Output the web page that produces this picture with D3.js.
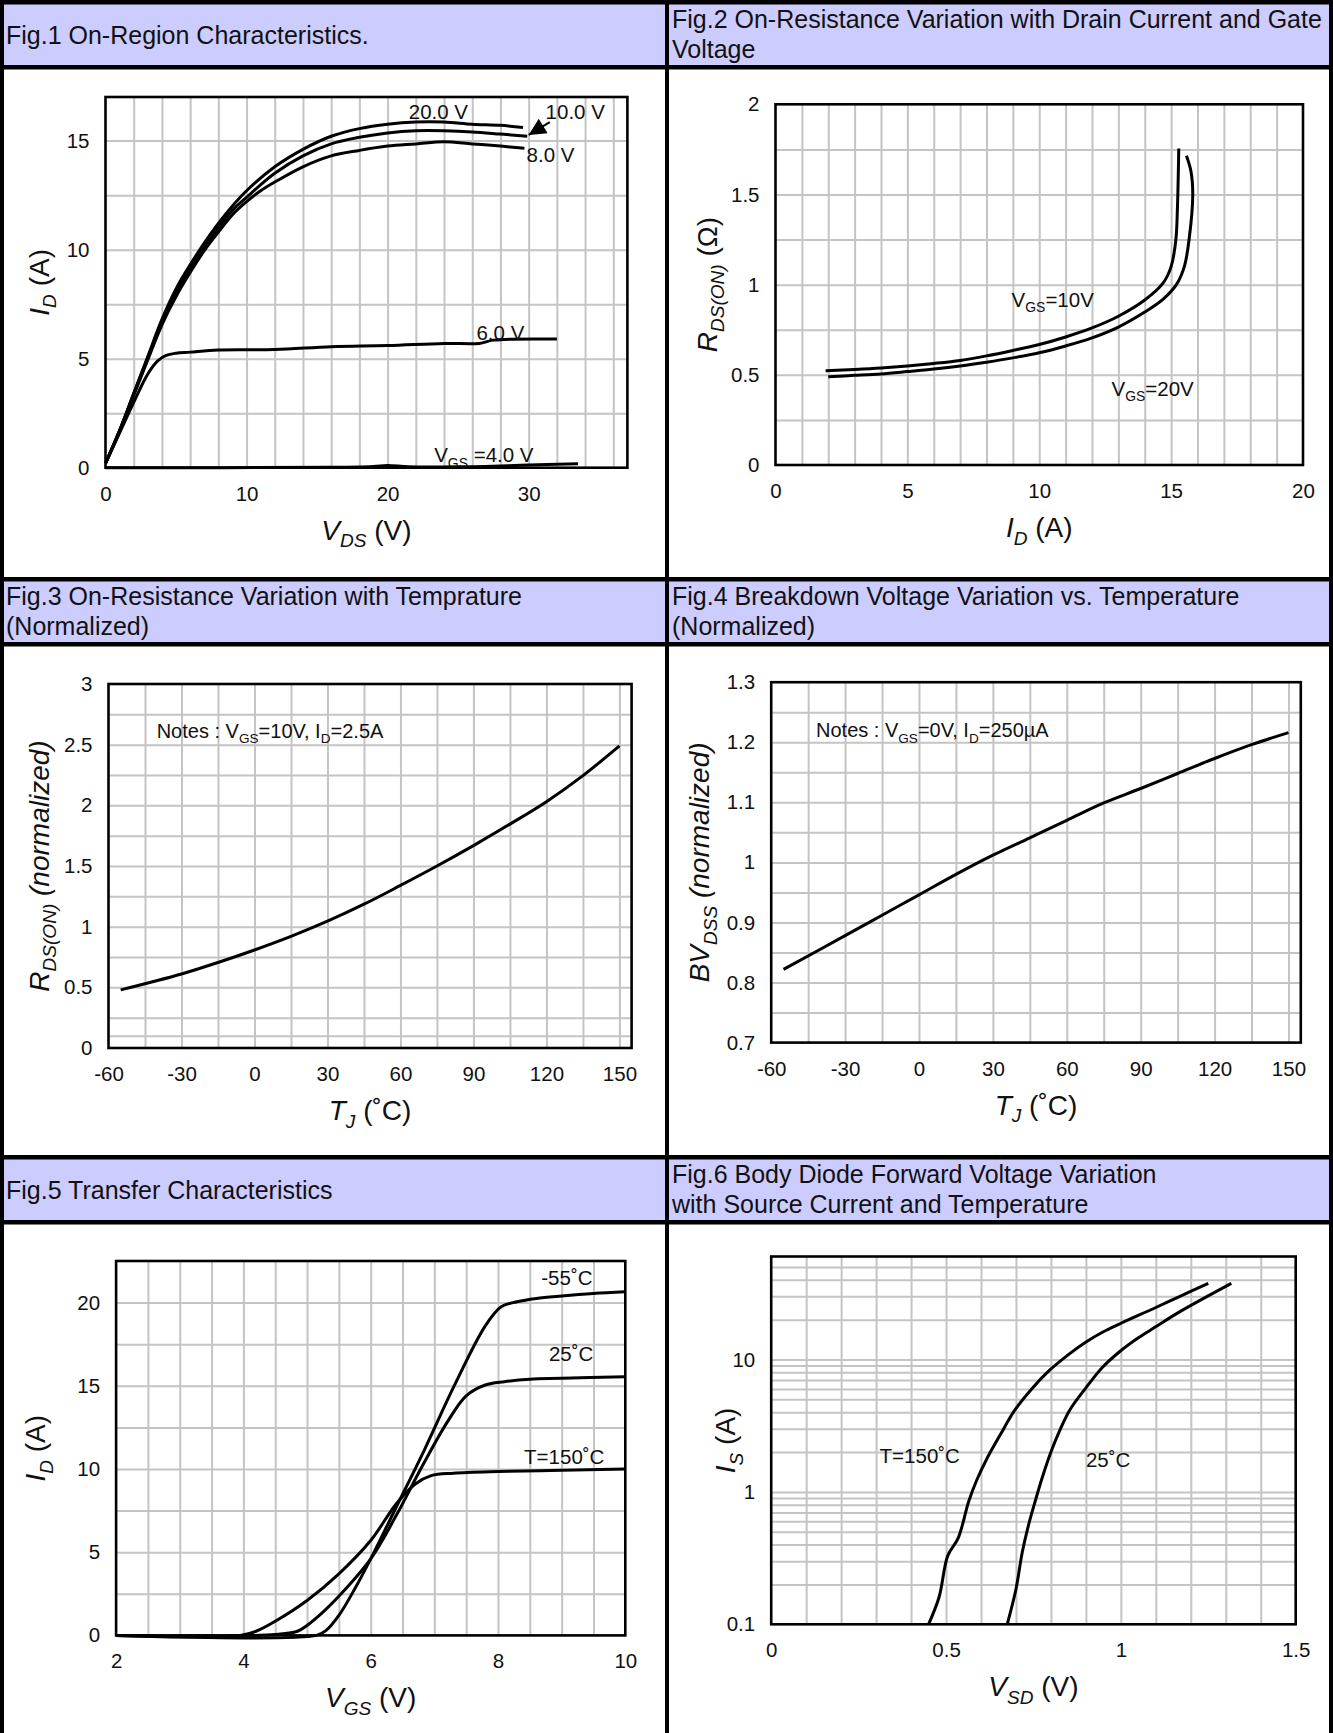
<!DOCTYPE html>
<html>
<head>
<meta charset="utf-8">
<script src="https://cdn.jsdelivr.net/npm/d3@7"></script>
<style>
  body { margin: 0; background: #fff; }
  svg text { font-family: "Liberation Sans", Arial, sans-serif; fill: #111; }
</style>
</head>
<body>
<svg id="sheet" width="1333" height="1733"></svg>
<script>
// ---------------- data ----------------

// Fig.1 On-region characteristics: [V_DS, I_D]
var fig1Vgs20 = [[0,0.2],[1,1.7],[2,3.4],[3,5.1],[4,6.8],[5,8.2],[6,9.3],[7,10.3],[8,11.2],[9,12.0],[10,12.7],
  [12,13.8],[14,14.6],[16,15.2],[18,15.55],[20,15.75],[22,15.85],[24,15.85],[26,15.75],[28,15.7],[29.6,15.6]];
var fig1Vgs10 = [[0,0.2],[1,1.7],[2,3.4],[3,5.05],[4,6.7],[5,8.0],[6,9.1],[7,10.1],[8,11.0],[9,11.8],[10,12.4],
  [12,13.5],[14,14.3],[16,14.85],[18,15.15],[20,15.35],[22,15.45],[24,15.45],[26,15.4],[28,15.3],[29.9,15.2]];
var fig1Vgs8 = [[0,0.2],[1,1.7],[2,3.3],[3,4.95],[4,6.55],[5,7.85],[6,8.95],[7,9.95],[8,10.8],[9,11.6],[10,12.2],
  [11,12.7],[12,13.1],[14,13.8],[16,14.3],[18,14.55],[20,14.75],[22,14.85],[24,14.95],[26,14.85],[28,14.75],[29.7,14.65]];
var fig1Vgs6 = [[0,0.2],[1,1.6],[2,3.0],[3,4.3],[3.7,4.9],[4.3,5.15],[5,5.25],[6,5.3],[8,5.4],[12,5.42],[16,5.55],
  [20,5.6],[24,5.7],[26.5,5.7],[27.5,5.85],[32,5.9]];
var fig1Vgs4 = [[0,0],[16,0.02],[19,0.06],[20,0.1],[21.5,0.04],[25,0.04],[30,0.12],[33.5,0.18]];
var fig1XTicks = [0, 10, 20, 30];
var fig1YTicks = [0, 5, 10, 15];

// Fig.2 On-resistance vs drain current: [I_D, R_DS(on)]
var fig2Vgs10 = [[1.9,0.523],[3,0.53],[4,0.538],[5,0.549],[6,0.563],[7,0.58],[8,0.605],[9,0.635],[10,0.668],
  [11,0.71],[12,0.76],[13,0.825],[14,0.915],[14.7,1.01],[15.0,1.1],[15.18,1.25],[15.24,1.43],[15.29,1.755]];
var fig2Vgs20 = [[2.0,0.49],[3,0.497],[4,0.505],[5,0.518],[6,0.532],[7,0.549],[8,0.57],[9,0.594],[10,0.622],
  [11,0.66],[12,0.705],[13,0.765],[14,0.848],[14.7,0.92],[15.2,1.0],[15.5,1.1],[15.68,1.25],[15.82,1.5],[15.75,1.63],[15.58,1.715]];
var fig2XTicks = [0, 5, 10, 15, 20];
var fig2YTicks = [0, 0.5, 1, 1.5, 2];

// Fig.3 normalized on-resistance vs temperature: [T_J, R]
var fig3Rds = [[-55,0.479],[-30,0.61],[-15,0.705],[0,0.808],[15,0.92],[30,1.045],[45,1.185],[60,1.34],
  [75,1.5],[90,1.668],[105,1.845],[120,2.03],[135,2.245],[150,2.49]];
var fig3XTicks = [-60, -30, 0, 30, 60, 90, 120, 150];
var fig3YTicks = [0, 0.5, 1, 1.5, 2, 2.5, 3];

// Fig.4 normalized breakdown voltage vs temperature: [T_J, BV]
var fig4Bv = [[-55,0.822],[-30,0.878],[-15,0.912],[0,0.946],[15,0.98],[30,1.012],[45,1.041],[60,1.07],
  [75,1.099],[90,1.123],[105,1.148],[120,1.173],[135,1.196],[150,1.216]];
var fig4XTicks = [-60, -30, 0, 30, 60, 90, 120, 150];
var fig4YTicks = [0.7, 0.8, 0.9, 1, 1.1, 1.2, 1.3];

// Fig.5 transfer characteristics: [V_GS, I_D]
var fig5Tm55 = [[2,0],[5.15,0],[5.3,0.3],[5.5,1.2],[5.75,2.8],[6.0,4.6],[6.4,7.7],[6.85,11.2],[7.3,14.9],
  [7.8,18.6],[8.05,19.75],[8.3,20.05],[8.6,20.25],[9,20.4],[9.5,20.55],[10,20.65]];
var fig5T25 = [[2,0],[4.5,0.05],[4.85,0.25],[5.0,0.6],[5.25,1.4],[5.5,2.35],[6.0,4.6],[6.4,7.2],[6.8,10.1],
  [7.2,12.8],[7.5,14.4],[7.8,15.05],[8.1,15.25],[8.5,15.4],[9,15.45],[10,15.55]];
var fig5T150 = [[2,0],[3.95,0],[4.2,0.25],[4.5,0.85],[5.0,2.1],[5.5,3.7],[6.0,5.7],[6.4,7.9],[6.7,9.1],
  [6.95,9.6],[7.3,9.75],[8,9.85],[9,9.92],[10,10.0]];
var fig5XTicks = [2, 4, 6, 8, 10];
var fig5YTicks = [0, 5, 10, 15, 20];

// Fig.6 body diode forward voltage: [V_SD, I_S]
var fig6T150 = [[0.45,0.1],[0.48,0.16],[0.505,0.33],[0.535,0.45],[0.565,0.85],[0.588,1.23],[0.62,1.85],
  [0.655,2.7],[0.697,4.16],[0.745,6.0],[0.797,8.34],[0.85,10.9],[0.897,13.4],[0.95,16.2],[0.997,18.6],
  [1.097,24.5],[1.169,30],[1.25,37.6]];
var fig6T25 = [[0.675,0.1],[0.70,0.184],[0.718,0.35],[0.735,0.55],[0.755,0.85],[0.773,1.23],[0.80,2.0],
  [0.825,2.9],[0.854,4.16],[0.899,6.06],[0.945,8.6],[0.997,11.5],[1.05,14.6],[1.097,17.5],[1.169,23],[1.316,37.6]];
var fig6XTicks = [0, 0.5, 1, 1.5];
var fig6YTicks = [0.1, 1, 10];

var headers = [
  ["Fig.1 On-Region Characteristics."],
  ["Fig.2 On-Resistance Variation with Drain Current and Gate", "Voltage"],
  ["Fig.3 On-Resistance Variation with Temprature", "(Normalized)"],
  ["Fig.4 Breakdown Voltage Variation vs. Temperature", "(Normalized)"],
  ["Fig.5 Transfer Characteristics"],
  ["Fig.6 Body Diode Forward Voltage Variation", "with Source Current and Temperature"]
];

// ---------------- sheet frame ----------------
var W = 1333, H = 1733;
var svg = d3.select("#sheet");
var rowTops = [0, 577, 1155];
var colX = [0, 667];
var HEAD = 25, TICK = 20.5, LABEL = 20.5, NOTE = 20, TITLE = 28;

svg.append("rect").attr("width", W).attr("height", H).attr("fill", "#fff");

rowTops.forEach(function (t, r) {
  svg.append("rect").attr("x", 0).attr("y", t + 4).attr("width", W).attr("height", 61).attr("fill", "#ccccff");
  svg.append("rect").attr("x", 0).attr("y", t).attr("width", W).attr("height", 4.5).attr("fill", "#000");
  svg.append("rect").attr("x", 0).attr("y", t + 65).attr("width", W).attr("height", 4.5).attr("fill", "#000");
  [0, 1].forEach(function (c) {
    var lines = headers[r * 2 + c];
    var tx = colX[c] + (c ? 5 : 6);
    var t1 = svg.append("text").attr("x", tx).attr("font-size", HEAD);
    if (lines.length == 1) {
      t1.attr("y", t + 44).text(lines[0]);
    } else {
      t1.attr("y", t + 28).text(lines[0]);
      svg.append("text").attr("x", tx).attr("y", t + 58).attr("font-size", HEAD).text(lines[1]);
    }
  });
});
// vertical borders
[[0, 4], [665, 4], [1329, 4]].forEach(function (b) {
  svg.append("rect").attr("x", b[0]).attr("y", 0).attr("width", b[1]).attr("height", H).attr("fill", "#000");
});

// ---------------- helpers ----------------
function rich(sel, parts, size) {
  var shifted = false;
  parts.forEach(function (p) {
    var ts = sel.append("tspan").text(p.t);
    if (p.i) ts.style("font-style", "italic");
    if (p.sub) {
      ts.attr("font-size", size * 0.68);
      if (!shifted) ts.attr("dy", size * 0.27);
      shifted = true;
    } else if (shifted) {
      ts.attr("dy", -size * 0.27);
      shifted = false;
    }
  });
  return sel;
}

var lineGen = d3.line().curve(d3.curveCatmullRom.alpha(0.5));

function plot(o) {
  var x = o.x.range([o.box[0], o.box[2]]);
  var y = o.y.range([o.box[3], o.box[1]]);
  var g = svg.append("g");
  var w = o.box[2] - o.box[0], h = o.box[3] - o.box[1];

  // grid through axes with full-length ticks
  var gx = g.append("g").attr("transform", "translate(0," + o.box[3] + ")")
    .call(d3.axisBottom(x).tickValues(o.xGrid).tickSize(-h).tickFormat(""));
  var gy = g.append("g").attr("transform", "translate(" + o.box[0] + ",0)")
    .call(d3.axisLeft(y).tickValues(o.yGrid).tickSize(-w).tickFormat(""));
  [gx, gy].forEach(function (a) {
    a.select(".domain").remove();
    a.selectAll("line").attr("stroke", "#c4c4c4").attr("stroke-width", 2);
  });

  // tick labels
  var lx = g.append("g").attr("transform", "translate(0," + o.box[3] + ")")
    .call(d3.axisBottom(x).tickValues(o.xTicks).tickSize(0).tickPadding(18.5).tickFormat(String));
  var ly = g.append("g").attr("transform", "translate(" + o.box[0] + ",0)")
    .call(d3.axisLeft(y).tickValues(o.yTicks).tickSize(0).tickPadding(16).tickFormat(String));
  [lx, ly].forEach(function (a) {
    a.select(".domain").remove();
    a.attr("font-family", null).attr("font-size", null);
    a.selectAll("text").attr("font-size", TICK).attr("fill", "#111");
  });

  // frame
  g.append("rect").attr("x", o.box[0]).attr("y", o.box[1]).attr("width", w).attr("height", h)
    .attr("fill", "none").attr("stroke", "#000").attr("stroke-width", 2.6);

  // curves
  o.curves.forEach(function (c) {
    g.append("path").attr("d", lineGen(c.map(function (d) { return [x(d[0]), y(d[1])]; })))
      .attr("fill", "none").attr("stroke", "#000").attr("stroke-width", 3)
      .attr("stroke-linejoin", "round");
  });

  // inline labels
  (o.labels || []).forEach(function (l) {
    var fs = l.size || LABEL;
    rich(g.append("text").attr("x", x(l.at[0])).attr("y", y(l.at[1])).attr("font-size", fs), l.parts, fs);
  });

  // axis titles
  rich(g.append("text").attr("x", (o.box[0] + o.box[2]) / 2).attr("y", o.box[3] + 72)
    .attr("text-anchor", "middle").attr("font-size", TITLE), o.xTitle, TITLE);
  rich(g.append("text").attr("transform", "translate(" + (o.box[0] - o.yTitleOff) + "," + ((o.box[1] + o.box[3]) / 2) + ") rotate(-90)")
    .attr("text-anchor", "middle").attr("font-size", TITLE), o.yTitle, TITLE);

  return { g: g, x: x, y: y };
}

function steps(a, b, s) { return d3.range(a, b + s / 2, s).map(function (v) { return +v.toFixed(4); }); }

// ---------------- Fig.1 ----------------
var p1 = plot({
  box: [105.5, 97, 627.4, 467.7],
  x: d3.scaleLinear().domain([0, 37]), y: d3.scaleLinear().domain([0, 17]),
  xGrid: steps(2, 36, 2), yGrid: steps(2.5, 15, 2.5),
  xTicks: fig1XTicks, yTicks: fig1YTicks,
  curves: [fig1Vgs20, fig1Vgs10, fig1Vgs8, fig1Vgs6, fig1Vgs4],
  labels: [
    { at: [21.5, 15.98], parts: [{ t: "20.0 V" }] },
    { at: [31.2, 15.98], parts: [{ t: "10.0 V" }] },
    { at: [29.85, 14.04], parts: [{ t: "8.0 V" }] },
    { at: [26.3, 5.85], parts: [{ t: "6.0 V" }] },
    { at: [23.3, 0.25], parts: [{ t: "V" }, { t: "GS", sub: true }, { t: " =4.0 V" }] }
  ],
  xTitle: [{ t: "V", i: 1 }, { t: "DS", i: 1, sub: true }, { t: " (V)" }],
  yTitle: [{ t: "I", i: 1 }, { t: "D", i: 1, sub: true }, { t: " (A)" }],
  yTitleOff: 57
});
// arrow pointing at the 10 V curve
svg.append("defs").append("marker").attr("id", "head").attr("viewBox", "0 0 10 10")
  .attr("refX", 10).attr("refY", 5).attr("markerWidth", 20).attr("markerHeight", 17)
  .attr("markerUnits", "userSpaceOnUse").attr("orient", "auto")
  .append("path").attr("d", "M0,0L10,5L0,10Z").attr("fill", "#000");
p1.g.append("line")
  .attr("x1", p1.x(31.5)).attr("y1", p1.y(15.85)).attr("x2", p1.x(30.0)).attr("y2", p1.y(15.26))
  .attr("stroke", "#000").attr("stroke-width", 2).attr("marker-end", "url(#head)");

// ---------------- Fig.2 ----------------
plot({
  box: [775.5, 104.3, 1303, 465],
  x: d3.scaleLinear().domain([0, 20]), y: d3.scaleLinear().domain([0, 2]),
  xGrid: steps(1, 19, 1), yGrid: steps(0.25, 1.75, 0.25),
  xTicks: fig2XTicks, yTicks: fig2YTicks,
  curves: [fig2Vgs10, fig2Vgs20],
  labels: [
    { at: [8.95, 0.877], parts: [{ t: "V" }, { t: "GS", sub: true }, { t: "=10V" }] },
    { at: [12.74, 0.385], parts: [{ t: "V" }, { t: "GS", sub: true }, { t: "=20V" }] }
  ],
  xTitle: [{ t: "I", i: 1 }, { t: "D", i: 1, sub: true }, { t: " (A)" }],
  yTitle: [{ t: "R", i: 1 }, { t: "DS(ON)", i: 1, sub: true }, { t: "  (\u03a9)" }],
  yTitleOff: 59
});

// ---------------- Fig.3 ----------------
plot({
  box: [108.5, 684, 631.6, 1048],
  x: d3.scaleLinear().domain([-60, 155]), y: d3.scaleLinear().domain([0, 3]),
  xGrid: steps(-45, 150, 15), yGrid: [0.1].concat(steps(0.25, 2.75, 0.25)),
  xTicks: fig3XTicks, yTicks: fig3YTicks,
  curves: [fig3Rds],
  labels: [
    { at: [-40.2, 2.555], size: NOTE, parts: [{ t: "Notes : V" }, { t: "GS", sub: true }, { t: "=10V, I" }, { t: "D", sub: true }, { t: "=2.5A" }] }
  ],
  xTitle: [{ t: "T", i: 1 }, { t: "J", i: 1, sub: true }, { t: " (\u02daC)" }],
  yTitle: [{ t: "R", i: 1 }, { t: "DS(ON)", i: 1, sub: true }, { t: "  (normalized)", i: 1 }],
  yTitleOff: 60
});

// ---------------- Fig.4 ----------------
plot({
  box: [771.2, 682.2, 1300.8, 1042.6],
  x: d3.scaleLinear().domain([-60, 155]), y: d3.scaleLinear().domain([0.7, 1.3]),
  xGrid: steps(-45, 150, 15), yGrid: steps(0.75, 1.25, 0.05),
  xTicks: fig4XTicks, yTicks: fig4YTicks,
  curves: [fig4Bv],
  labels: [
    { at: [-41.8, 1.208], size: NOTE, parts: [{ t: "Notes : V" }, { t: "GS", sub: true }, { t: "=0V, I" }, { t: "D", sub: true }, { t: "=250\u00b5A" }] }
  ],
  xTitle: [{ t: "T", i: 1 }, { t: "J", i: 1, sub: true }, { t: " (\u02daC)" }],
  yTitle: [{ t: "BV", i: 1 }, { t: "DSS", i: 1, sub: true }, { t: "  (normalized)", i: 1 }],
  yTitleOff: 62
});

// ---------------- Fig.5 ----------------
plot({
  box: [116.1, 1261, 625.3, 1635.4],
  x: d3.scaleLinear().domain([2, 10]), y: d3.scaleLinear().domain([0, 22.5]),
  xGrid: steps(2.5, 9.5, 0.5), yGrid: steps(2.5, 20, 2.5),
  xTicks: fig5XTicks, yTicks: fig5YTicks,
  curves: [fig5Tm55, fig5T25, fig5T150],
  labels: [
    { at: [8.68, 21.04], parts: [{ t: "-55\u02daC" }] },
    { at: [8.8, 16.5], parts: [{ t: "25\u02daC" }] },
    { at: [8.41, 10.33], parts: [{ t: "T=150\u02daC" }] }
  ],
  xTitle: [{ t: "V", i: 1 }, { t: "GS", i: 1, sub: true }, { t: " (V)" }],
  yTitle: [{ t: "I", i: 1 }, { t: "D", i: 1, sub: true }, { t: " (A)" }],
  yTitleOff: 71
});

// ---------------- Fig.6 ----------------
var logGrid = [];
[0.1, 1, 10].forEach(function (dec) {
  d3.range(1, 10).forEach(function (m) { var v = +(m * dec).toFixed(3); if (v > 0.1 && v < 60) logGrid.push(v); });
});
plot({
  box: [771.2, 1256.5, 1295.7, 1624.3],
  x: d3.scaleLinear().domain([0, 1.5]), y: d3.scaleLog().domain([0.1, 60]),
  xGrid: steps(0.1, 1.4, 0.1), yGrid: logGrid,
  xTicks: fig6XTicks, yTicks: fig6YTicks,
  curves: [fig6T150, fig6T25],
  labels: [
    { at: [0.31, 1.65], parts: [{ t: "T=150\u02daC" }] },
    { at: [0.9, 1.545], parts: [{ t: "25\u02daC" }] }
  ],
  xTitle: [{ t: "V", i: 1 }, { t: "SD", i: 1, sub: true }, { t: " (V)" }],
  yTitle: [{ t: "I", i: 1 }, { t: "S", i: 1, sub: true }, { t: " (A)" }],
  yTitleOff: 36
});
</script>
</body>
</html>
